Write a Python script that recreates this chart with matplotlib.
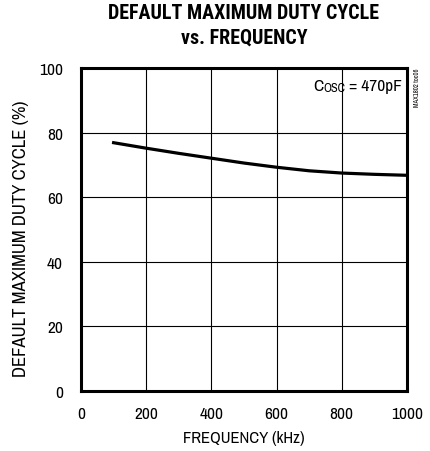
import matplotlib.pyplot as plt

# data
freq = [100, 200, 300, 400, 500, 600, 700, 800, 900, 1000]
duty = [76.9, 75.2, 73.6, 72.1, 70.6, 69.3, 68.2, 67.5, 67.1, 66.8]
xticks = [0, 200, 400, 600, 800, 1000]
yticks = [0, 20, 40, 60, 80, 100]

plt.rcParams['font.family'] = ['Archivo Narrow', 'DejaVu Sans']

fig = plt.figure(figsize=(4.31, 4.52), dpi=100)
ax = fig.add_axes([0.188, 0.133, 0.756, 0.714])

ax.plot(freq, duty, color='black', linewidth=2.3)

ax.set_xlim(0, 1000)
ax.set_ylim(0, 100)
ax.set_xticks(xticks)
ax.set_yticks(yticks)
ax.tick_params(axis='x', length=0, labelsize=12.5, pad=11)
ax.tick_params(axis='y', length=0, labelsize=12.5, pad=13)
ax.grid(True, color='black', linewidth=0.8)
for s in ax.spines.values():
    s.set_linewidth(2.2)

ax.set_xlabel('FREQUENCY (kHz)', fontsize=12)
ax.xaxis.set_label_coords(0.5, -0.122)
ax.set_ylabel('DEFAULT MAXIMUM DUTY CYCLE (%)', fontsize=13.5)
ax.yaxis.label.set_va('center')
ax.yaxis.set_label_coords(-0.184, 0.475)

# title, centred over the plot area
fig.text(0.566, 0.970, 'DEFAULT MAXIMUM DUTY CYCLE', ha='center', va='center',
         fontsize=14.4, fontweight='black', family='Roboto Condensed')
fig.text(0.566, 0.915, 'vs. FREQUENCY', ha='center', va='center',
         fontsize=14.4, fontweight='black', family='Roboto Condensed')

# C_OSC annotation, built from pieces
tc = fig.text(0.726, 0.7993, 'C', ha='left', va='baseline', fontsize=12.5)
to = ax.annotate('OSC', xy=(1, 0.7975), xycoords=(tc, fig.transFigure),
                 ha='left', va='baseline', fontsize=9)
ax.annotate(' = 470pF', xy=(1, 0.7993), xycoords=(to, fig.transFigure),
            ha='left', va='baseline', fontsize=12.5)

fig.text(0.9675, 0.849, 'MAX1802 toc06', rotation=90, ha='center', va='top',
         fontsize=4.8)

plt.savefig('out.png', dpi=100)
